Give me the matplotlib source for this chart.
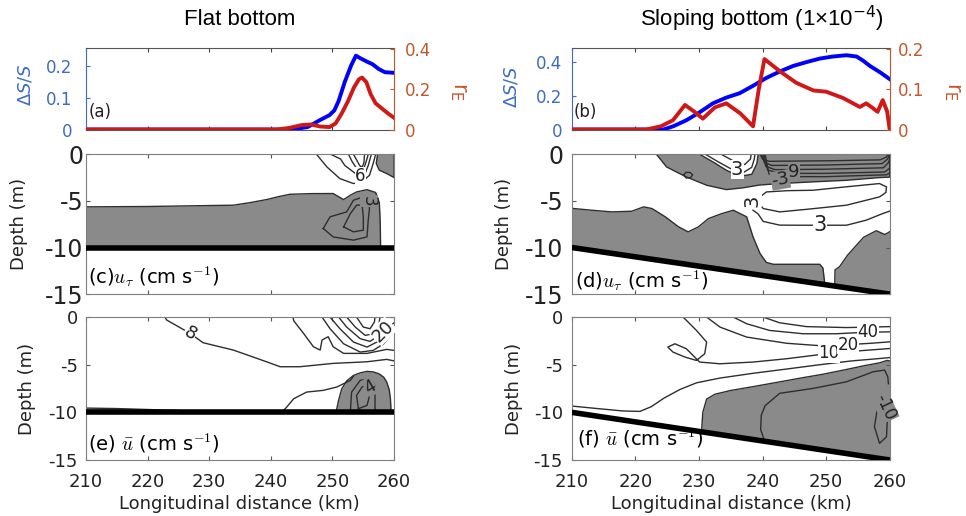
import matplotlib.pyplot as plt
import numpy as np

plt.rcParams['axes.unicode_minus'] = False
plt.rcParams['font.family'] = 'DejaVu Sans'

# ---------------- top row: salt change (left axis) and entrainment ratio (right axis)
a_salt_x = [210, 243.5, 246, 248, 249.5, 250.3, 251, 252, 253, 253.8, 254.5, 255.5, 256.5, 257.5, 258.5, 260]
a_salt = [0, 0, 0.008, 0.03, 0.045, 0.06, 0.09, 0.15, 0.2, 0.232, 0.224, 0.214, 0.205, 0.19, 0.18, 0.178]
a_rE_x = [210, 241, 243, 245, 246.5, 248, 249.5, 250.5, 251.5, 252.5, 253.5, 254.3, 254.8, 255.5, 256.2, 257, 258, 259, 260]
a_rE = [0, 0, 0.008, 0.022, 0.025, 0.015, 0.012, 0.03, 0.08, 0.14, 0.21, 0.25, 0.258, 0.235, 0.175, 0.13, 0.105, 0.08, 0.058]

b_salt_x = [210, 224.4, 226, 228, 230, 232.2, 234.3, 236.4, 238.5, 240.6, 242.7, 244.8, 247, 249, 251, 253.2,
            254.8, 255.8, 256.9, 258.5, 260]
b_salt = [0, 0, 0.02, 0.055, 0.1, 0.156, 0.19, 0.216, 0.26, 0.307, 0.345, 0.378, 0.402, 0.422, 0.434, 0.442,
          0.434, 0.41, 0.378, 0.34, 0.30]
b_rE_x = [210, 221.7, 224, 225.9, 227.8, 229.2, 230.6, 232.5, 234.3, 236.5, 238.5, 239.4, 240.3, 241.5, 242.7,
          245.3, 248, 250, 252.7, 255.3, 256.3, 257.2, 258.1, 258.9, 259.6, 260]
b_rE = [0, 0, 0.008, 0.023, 0.061, 0.045, 0.027, 0.055, 0.065, 0.04, 0.008, 0.1, 0.175, 0.16, 0.145,
        0.116, 0.097, 0.094, 0.078, 0.056, 0.065, 0.055, 0.044, 0.073, 0.045, 0]

# ---------------- channel bed
bed_x = [210, 260]
bed_flat = [-10, -10]
bed_slope = [-10, -15]

# ---------------- (c) u_tau, flat bottom
c_fill_x = [210, 215, 220, 225, 230, 233.9, 236.5, 239.3, 241.2, 243.1, 246.5, 250.1, 251.8, 253.0, 253.9,
            255.6, 257.0, 257.6, 257.75, 257.8]
c_fill_z = [-5.64, -5.62, -5.6, -5.55, -5.5, -5.46, -5.2, -4.86, -4.55, -4.29, -4.22, -4.21, -4.86, -4.35, -4.04,
            -3.79, -4.1, -5.2, -7.5, -9.7]
c_patch = [(257.3, 0), (257.1, -1.0), (257.6, -1.71), (258.8, -2.07), (260, -2.5), (260, 0)]
c_lines = [
    [(247.4, 0), (249.1, -1.36), (251.2, -2.61), (253.4, -3.14), (254.8, -2.96), (256.0, -2.25), (256.6, -1.0), (257.0, 0)],
    [(249.7, 0), (251.3, -0.5), (252.0, -1.2), (253.2, -1.8), (254.4, -2.4), (255.2, -2.2), (255.8, -1.2), (256.3, 0)],
    [(252.6, 0), (253.2, -0.8), (253.9, -1.5), (254.5, -1.9), (255.1, -1.5), (255.5, -0.7), (255.8, 0)],
    [(253.4, 0), (253.9, -0.6), (254.4, -1.2), (254.8, -1.4), (255.1, -0.9), (255.2, 0)],
    [(248.5, -7.96), (249.6, -6.71), (252.3, -6.18), (253.4, -4.93), (255.0, -4.57), (256.1, -5.11), (255.8, -7.07),
     (255.6, -8.86), (253.4, -9.21), (250.1, -8.86), (248.5, -7.96)],
    [(251.8, -7.79), (252.9, -6.36), (253.9, -5.46), (254.8, -5.46), (255.0, -6.71), (255.0, -8.14), (253.4, -8.32),
     (251.8, -7.79)],
]

# ---------------- (d) u_tau, sloping bottom
d_fill1_x = [210, 213.1, 216.3, 219.4, 221.3, 222.6, 224.7, 226.8, 228.3, 229.9, 231.5, 233.6, 235.4, 237.5, 238.5,
             239.6, 240.6, 241.7, 245.0, 249.0, 249.5, 249.8]
d_fill1_z = [-5.8, -6.0, -6.18, -6.11, -5.64, -5.82, -6.71, -7.79, -8.32, -7.79, -6.89, -6.36, -6.0, -6.71, -8.86,
             -10.64, -11.6, -11.8, -11.8, -11.8, -12.2, -13.98]
d_fill2_x = [251.35, 251.4, 252.1, 253.4, 255.9, 257.9, 259.2, 259.8, 260]
d_fill2_z = [-14.1, -12.4, -12.07, -10.8, -8.9, -8.2, -8.6, -8.4, -8.3]
d_patch = [(223.3, 0), (224.9, -1.36), (228.0, -2.43), (231.2, -3.32), (234.3, -3.79), (236.9, -3.6), (239.5, -3.3),
           (242.7, -3.14), (247.9, -2.96), (253.2, -2.79), (258.4, -2.5), (260, -2.45), (260, 0), (239.3, 0),
           (239.1, -1.0), (238.3, -2.14), (236.4, -2.36), (234.3, -1.71), (232.2, -0.82), (230.1, 0)]
d_lines = [
    [(231.0, 0), (233.0, -0.8), (235.0, -1.55), (237.0, -1.95), (238.3, -1.4), (238.7, -0.5), (238.8, 0)],
    [(233.5, 0), (235.5, -0.75), (237.2, -1.1), (238.1, -0.5), (238.2, 0)],
    [(239.6, 0), (240.0, -0.5), (241.0, -0.75), (250, -0.7), (258.5, -0.6), (259.5, -0.3), (259.7, 0)],
    [(239.8, 0), (240.3, -0.9), (241.5, -1.2), (250, -1.15), (258.8, -1.0), (259.7, -0.5), (259.9, 0)],
    [(240.0, 0), (240.5, -1.3), (242.0, -1.65), (250, -1.6), (259.0, -1.45), (259.8, -0.9), (260, -0.5)],
    [(240.2, 0), (240.8, -1.7), (243.0, -2.05), (250, -2.05), (259.2, -1.9), (260, -1.5)],
    [(240.4, 0), (241.0, -2.1), (243.5, -2.4), (250, -2.4), (259.5, -2.2), (260, -2.0)],
    [(239.6, -4.57), (240.6, -4.04), (244.0, -3.9), (247.9, -3.86), (253.0, -3.5), (258.4, -3.14), (259.5, -3.5),
     (259.4, -4.1), (258.4, -4.57), (253.2, -5.46), (247.0, -5.9), (242.7, -6.18), (240.1, -5.82), (239.3, -5.11),
     (239.6, -4.57)],
    [(238.5, -6.0), (239.3, -6.4), (240.1, -7.2), (242.7, -7.6), (245.8, -7.61), (253.2, -7.61), (256.3, -7.07),
     (258.9, -6.36), (260, -6.1)],
    [(227.6, -2.25), (227.9, -1.95), (228.6, -1.95), (229.0, -2.2), (228.7, -2.5), (228.0, -2.55), (227.6, -2.25)],
]

# ---------------- (e) u-bar, flat bottom
e_fill_x = [250.6, 251.0, 251.5, 252.3, 253.4, 254.5, 255.6, 256.6, 257.5, 258.3, 258.8, 259.2, 259.4, 259.5]
e_fill_z = [-9.9, -8.7, -7.52, -6.7, -6.12, -5.85, -5.7, -5.75, -5.94, -6.3, -6.82, -7.6, -8.57, -9.9]
e_sliver_x = [210, 215, 220, 225, 228]
e_sliver_z = [-9.55, -9.6, -9.7, -9.8, -9.95]
e_lines = [
    [(222.8, 0), (223.1, -0.31), (226.9, -1.71), (229.0, -2.69), (233.9, -3.46), (239.3, -4.69), (241.5, -5.21),
     (244.7, -5.21), (250.1, -4.86), (255.6, -4.69), (258.8, -4.44), (260, -4.6)],
    [(243.6, 0), (243.7, -0.38), (245.3, -1.71), (246.9, -3.11), (248.0, -3.46), (248.3, -2.41), (249.3, -2.06),
     (250.1, -3.11), (251.8, -3.81), (255.6, -3.81), (258.8, -3.39), (260, -3.5)],
    [(248.3, 0), (249.6, -1.22), (251.8, -2.8), (254.5, -3.67), (256.6, -3.5), (258.3, -2.8), (259.4, -1.92), (260, -1.6)],
    [(249.6, 0), (251.2, -1.22), (253.4, -2.62), (255.6, -3.15), (257.7, -2.45), (258.8, -1.4), (259.6, -0.8), (260, -0.6)],
    [(251.0, 0), (252.3, -1.05), (254.5, -2.27), (256.1, -2.55), (257.5, -1.92), (258.3, -0.87), (258.6, 0)],
    [(252.3, 0), (253.7, -1.05), (255.3, -1.92), (256.6, -1.75), (257.5, -0.9), (257.7, 0)],
    [(253.9, 0), (255.0, -1.05), (256.1, -1.22), (256.8, -0.52), (256.9, 0)],
    [(241.8, -9.95), (242.5, -9.5), (243.7, -8.57), (245.8, -7.87), (248.5, -7.69), (250.7, -7.34), (252.9, -6.64),
     (253.4, -6.2)],
    [(252.9, -9.9), (253.1, -7.87), (254.5, -6.64), (256.1, -6.47), (256.9, -7.17), (256.9, -9.9)],
    [(254.2, -9.61), (253.9, -8.22), (254.8, -7.34), (255.8, -7.0), (256.1, -8.05), (255.6, -9.27), (254.2, -9.61)],
]

# ---------------- (f) u-bar, sloping bottom
f_fill_x = [230.4, 230.5, 230.6, 231.2, 232.5, 235, 238.5, 242.7, 246, 249.5, 253.2, 256, 258.4, 259.6, 260]
f_fill_z = [-12.04, -11.0, -10.0, -8.6, -8.1, -7.7, -7.3, -6.8, -6.4, -6.0, -5.5, -5.1, -4.8, -4.55, -4.6]
f_lines = [
    [(240.3, -13.0), (239.7, -11.8), (239.8, -10.3), (240.4, -9.3), (242.7, -8.0), (248.0, -7.48), (253.2, -6.79),
     (257.4, -5.74), (259.2, -5.56), (259.7, -6.26), (259.8, -7.0)],
    [(258.2, -9.06), (257.6, -11.5), (258.4, -13.25), (259.5, -12.56), (259.7, -9.76), (258.9, -8.36), (258.2, -9.06)],
    [(210.2, -9.35), (214, -9.6), (218, -9.85), (220.7, -9.9), (222.5, -9.4), (224.5, -8.5), (227, -7.6),
     (229.6, -6.9), (233.3, -6.4), (238.5, -5.9), (243.8, -5.45), (249, -5.0), (254, -4.6), (258.4, -4.35), (260, -4.25)],
    [(227.5, 0), (229.6, -1.4), (231.2, -2.62), (230.9, -3.85), (229.6, -4.55), (227.8, -4.2), (225.9, -3.67),
     (225.1, -3.15), (226.2, -2.8), (228.0, -3.32), (230.1, -4.72), (233.3, -4.9), (238.5, -4.72), (243.8, -4.37),
     (248.0, -4.02), (251.0, -3.75), (254, -3.6), (257, -3.45), (260, -3.3)],
    [(231.2, 0), (233.3, -1.05), (237.5, -2.1), (243.8, -2.75), (249.0, -3.0), (252, -2.95), (254.5, -2.85),
     (257, -2.75), (260, -2.6)],
    [(235.4, 0), (237.5, -0.7), (241.1, -1.4), (246.4, -1.75), (251.6, -1.75), (256.0, -1.6), (260, -1.55)],
    [(240.1, 0), (242.7, -0.6), (246.9, -1.0), (253.2, -1.1), (257, -1.05), (260, -1.0)],
]

BLUE = '#3d6cc0'
ORANGE = '#c0582a'
SHADE = '#8a8a8a'
CLINE = '#2e2e2e'
SPINE = '#7f7f7f'

fig = plt.figure(figsize=(9.66, 5.16), dpi=100)

LEFT = (0.089, 0.319)
RIGHT = (0.592, 0.329)
ROW_TOP = (0.749, 0.158)
ROW_MID = (0.430, 0.271)
ROW_BOT = (0.1085, 0.277)


def rect(col, row):
    return [col[0], row[0], col[1], row[1]]


def salt_panel(col, sx, sv, rx, rv, slim, sticks, rlim, rticks, tag, lpad, rpad):
    ax = fig.add_axes(rect(col, ROW_TOP))
    ax.plot(sx, sv, color='#0000ff', lw=2.8)
    ax.set_xlim(210, 260)
    ax.set_ylim(0, slim)
    ax.set_yticks(sticks)
    ax.set_yticklabels([f'{t:g}' for t in sticks])
    ax.set_xticks(range(210, 261, 10))
    ax.tick_params(axis='x', direction='in', length=3, top=True, labelbottom=False, color='#444')
    ax.tick_params(axis='y', direction='in', length=3, colors=BLUE, labelsize=12, pad=lpad)
    ax.spines['left'].set_color(BLUE)
    ax.spines['right'].set_visible(False)
    for s in ('top', 'bottom'):
        ax.spines[s].set_color('#555555')
    ax2 = ax.twinx()
    ax2.plot(rx, rv, color='#d01818', lw=2.8)
    ax2.set_ylim(0, rlim)
    ax2.set_yticks(rticks)
    ax2.set_yticklabels([f'{t:g}' for t in rticks])
    ax2.tick_params(axis='y', direction='in', length=3, colors=ORANGE, labelsize=12, pad=rpad)
    ax2.spines['right'].set_color(ORANGE)
    for s in ('left', 'top', 'bottom'):
        ax2.spines[s].set_visible(False)
    ax.text(0.007, 0.21, tag, transform=ax.transAxes, fontsize=12, ha='left', va='center', color='#222')
    return ax


def depth_panel(col, row, bed_z, fills, patches, lines, xticks, xlabels, ysize, ypad):
    ax = fig.add_axes(rect(col, row))
    for fx, fz in fills:
        fx = np.asarray(fx, dtype=float)
        ax.fill_between(fx, fz, np.interp(fx, bed_x, bed_z), color=SHADE, lw=0)
        ax.plot(fx, fz, color=CLINE, lw=1.0)
    for p in patches:
        px, pz = zip(*p)
        ax.fill(px, pz, color=SHADE, lw=0)
        ax.plot(px, pz, color=CLINE, lw=1.0)
    for ln in lines:
        lx, lz = zip(*ln)
        ax.plot(lx, lz, color=CLINE, lw=1.0)
    ax.plot(bed_x, bed_z, color='k', lw=4, solid_capstyle='butt', zorder=4)
    ax.set_xlim(210, 260)
    ax.set_ylim(-15, 0)
    ax.set_xticks(xticks)
    ax.set_yticks([-15, -10, -5, 0])
    ax.set_yticklabels(['-15', '-10', '-5', '0'])
    ax.tick_params(direction='in', length=3, top=True, right=True, color='#555', labelcolor='#222')
    ax.tick_params(axis='y', labelsize=ysize, pad=ypad)
    ax.tick_params(axis='x', labelsize=13, pad=9, labelbottom=xlabels)
    for s in ax.spines.values():
        s.set_color(SPINE)
    return ax


def clabel(ax, text, x, z, rot=0, bg='white', size=13):
    ax.text(x, z, text, rotation=rot, ha='center', va='center', fontsize=size, color='#222', zorder=5,
            bbox=dict(facecolor=bg, edgecolor='none', pad=0.2))


# ---- top row
ax_a = salt_panel(LEFT, a_salt_x, a_salt, a_rE_x, a_rE, 0.256, [0, 0.1, 0.2], 0.405, [0, 0.2, 0.4], '(a)', 10, 8)
ax_b = salt_panel(RIGHT, b_salt_x, b_salt, b_rE_x, b_rE, 0.485, [0, 0.2, 0.4], 0.2025, [0, 0.1, 0.2], '(b)', 7, 6)

fig.text(0.026, 0.835, r'$\Delta S/S$', rotation=90, color=BLUE, fontsize=13, ha='center', va='center')
fig.text(0.530, 0.832, r'$\Delta S/S$', rotation=90, color=BLUE, fontsize=13, ha='center', va='center')
fig.text(0.474, 0.822, r'r$_\mathregular{E}$', rotation=-90, color=ORANGE, fontsize=15, ha='center', va='center')
fig.text(0.986, 0.822, r'r$_\mathregular{E}$', rotation=-90, color=ORANGE, fontsize=15, ha='center', va='center')

# ---- middle row: u_tau
ax_c = depth_panel(LEFT, ROW_MID, bed_flat, [(c_fill_x, c_fill_z)], [c_patch], c_lines, [220, 240, 260], False, 17, 2)
clabel(ax_c, '6', 254.5, -2.35, 0, 'white', 12)
clabel(ax_c, '3', 255.9, -5.0, -90, SHADE, 12)

ax_d = depth_panel(RIGHT, ROW_MID, bed_slope, [(d_fill1_x, d_fill1_z), (d_fill2_x, d_fill2_z)], [d_patch], d_lines,
                   [220, 240, 260], False, 17, 6)
clabel(ax_d, '3', 236.0, -1.6, 0, 'white', 14)
clabel(ax_d, '-3', 242.8, -2.75, 10, SHADE, 13)
clabel(ax_d, '9', 244.9, -1.85, 0, SHADE, 13)
clabel(ax_d, '3', 238.4, -4.95, 90, 'white', 14)
clabel(ax_d, '3', 249.0, -7.6, 0, 'white', 15)

# ---- bottom row: u-bar
ax_e = depth_panel(LEFT, ROW_BOT, bed_flat, [(e_fill_x, e_fill_z), (e_sliver_x, e_sliver_z)], [], e_lines,
                   range(210, 261, 10), True, 13, 6)
clabel(ax_e, '8', 226.9, -1.71, -30, 'white', 13)
clabel(ax_e, '20', 258.2, -1.5, 45, 'white', 13)
clabel(ax_e, '4', 256.1, -7.3, 30, SHADE, 12)

ax_f = depth_panel(RIGHT, ROW_BOT, bed_slope, [(f_fill_x, f_fill_z)], [], f_lines, range(210, 261, 10), True, 13, 6.5)
clabel(ax_f, '10', 250.4, -3.8, 0, 'white', 12)
clabel(ax_f, '20', 253.5, -2.9, 0, 'white', 12)
clabel(ax_f, '40', 256.6, -1.58, 0, 'white', 12)
clabel(ax_f, '-10', 259.3, -9.5, -65, SHADE, 12)

# ---- panel tags
tag_kw = dict(fontsize=14, ha='left', va='center', math_fontfamily='cm', zorder=6)
ax_c.text(0.006, 0.124, r'(c)$u_\tau$ (cm s$^{\mathsf{-1}}$)', transform=ax_c.transAxes, **tag_kw)
ax_d.text(0.009, 0.094, r'(d)$u_\tau$ (cm s$^{\mathsf{-1}}$)', transform=ax_d.transAxes, **tag_kw)
ax_e.text(0.006, 0.119, r'(e) $\bar{u}$ (cm s$^{\mathsf{-1}}$)', transform=ax_e.transAxes, **tag_kw)
ax_f.text(0.016, 0.154, r'(f) $\bar{u}$ (cm s$^{\mathsf{-1}}$)', transform=ax_f.transAxes, **tag_kw)

# ---- titles and axis labels
fig.text(0.248, 0.963, 'Flat bottom', ha='center', va='center', fontsize=16, family='Liberation Sans')
fig.text(0.789, 0.963, 'Sloping bottom (1\u00d710$^{-4}$)', ha='center', va='center', fontsize=16,
         family='Liberation Sans')
for x, y in [(0.020, 0.566), (0.028, 0.247), (0.522, 0.566), (0.532, 0.247)]:
    fig.text(x, y, 'Depth (m)', rotation=90, ha='center', va='center', fontsize=13, color='#222')
fig.text(0.248, 0.023, 'Longitudinal distance (km)', ha='center', va='center', fontsize=13, color='#222')
fig.text(0.757, 0.023, 'Longitudinal distance (km)', ha='center', va='center', fontsize=13, color='#222')

fig.savefig('out.png', dpi=100)
